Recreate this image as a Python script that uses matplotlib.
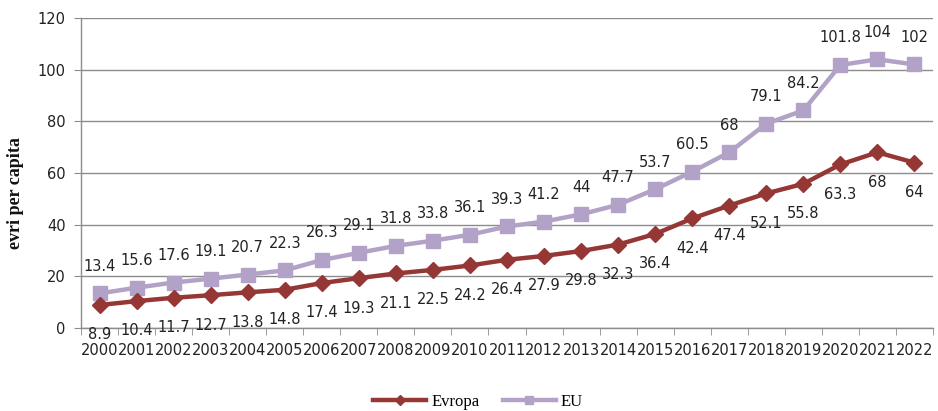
import matplotlib
matplotlib.use("Agg")
import matplotlib.pyplot as plt
from matplotlib.lines import Line2D

years = [str(y) for y in range(2000, 2023)]
evropa = [8.9, 10.4, 11.7, 12.7, 13.8, 14.8, 17.4, 19.3, 21.1, 22.5, 24.2, 26.4,
          27.9, 29.8, 32.3, 36.4, 42.4, 47.4, 52.1, 55.8, 63.3, 68, 64]
eu = [13.4, 15.6, 17.6, 19.1, 20.7, 22.3, 26.3, 29.1, 31.8, 33.8, 36.1, 39.3,
      41.2, 44, 47.7, 53.7, 60.5, 68, 79.1, 84.2, 101.8, 104, 102]
y_ticks = [0, 20, 40, 60, 80, 100, 120]

c_evropa = "#953735"
c_eu = "#B3A2C7"
grid_c = "#8C8C8C"
txt_c = "#222222"

fig = plt.figure(figsize=(9.38, 4.11), dpi=100)
ax = fig.add_axes([81 / 938, 83 / 411, 852 / 938, 310 / 411])

x = list(range(len(years)))
ax.plot(x, eu, color=c_eu, lw=3.2, marker="s", ms=10.5, zorder=3)
ax.plot(x, evropa, color=c_evropa, lw=3.2, marker="D", ms=8.5, zorder=4)

lbl_font = dict(fontsize=10.5, family="DejaVu Sans", color=txt_c)
for i, v in enumerate(eu):
    ax.annotate(f"{v:g}", (i, v), xytext=(0, 19.5), textcoords="offset points",
                ha="center", va="center", **lbl_font)
for i, v in enumerate(evropa):
    ax.annotate(f"{v:g}", (i, v), xytext=(0, -21.5), textcoords="offset points",
                ha="center", va="center", **lbl_font)

ax.set_xlim(-0.5, len(years) - 0.5)
ax.set_ylim(0, 120)
ax.set_yticks(y_ticks)
ax.set_yticklabels([str(t) for t in y_ticks], fontsize=10.5, family="DejaVu Sans", color=txt_c)
ax.set_xticks(x)
ax.set_xticklabels(years, fontsize=10.5, family="DejaVu Sans", color=txt_c)
ax.set_xticks([i - 0.5 for i in range(len(years) + 1)], minor=True)
ax.tick_params(axis="x", which="major", length=0, pad=11)
ax.tick_params(axis="x", which="minor", length=5, color=grid_c, direction="out")
ax.tick_params(axis="y", length=5, color=grid_c, pad=6)

ax.yaxis.grid(True, color=grid_c, lw=1)
ax.set_axisbelow(True)
for s in ["top", "right"]:
    ax.spines[s].set_visible(False)
for s in ["left", "bottom"]:
    ax.spines[s].set_color(grid_c)
    ax.spines[s].set_linewidth(1)

ax.set_ylabel("evri per capita", family="Liberation Serif", fontweight="bold",
              fontsize=13, color="#111111")
ax.yaxis.set_label_coords(-57 / 852, 0.435)

handles = [
    Line2D([], [], color=c_evropa, lw=3.2, marker="D", ms=5),
    Line2D([], [], color=c_eu, lw=3.2, marker="s", ms=6),
]
fig.legend(handles, ["Evropa", "EU"], loc="center", bbox_to_anchor=(478 / 938, 1 - 402 / 411),
           ncol=2, frameon=False, handlelength=3.2, handletextpad=0.3, columnspacing=1.4,
           prop=dict(family="Liberation Serif", size=12))

fig.savefig("out.png", dpi=100)
